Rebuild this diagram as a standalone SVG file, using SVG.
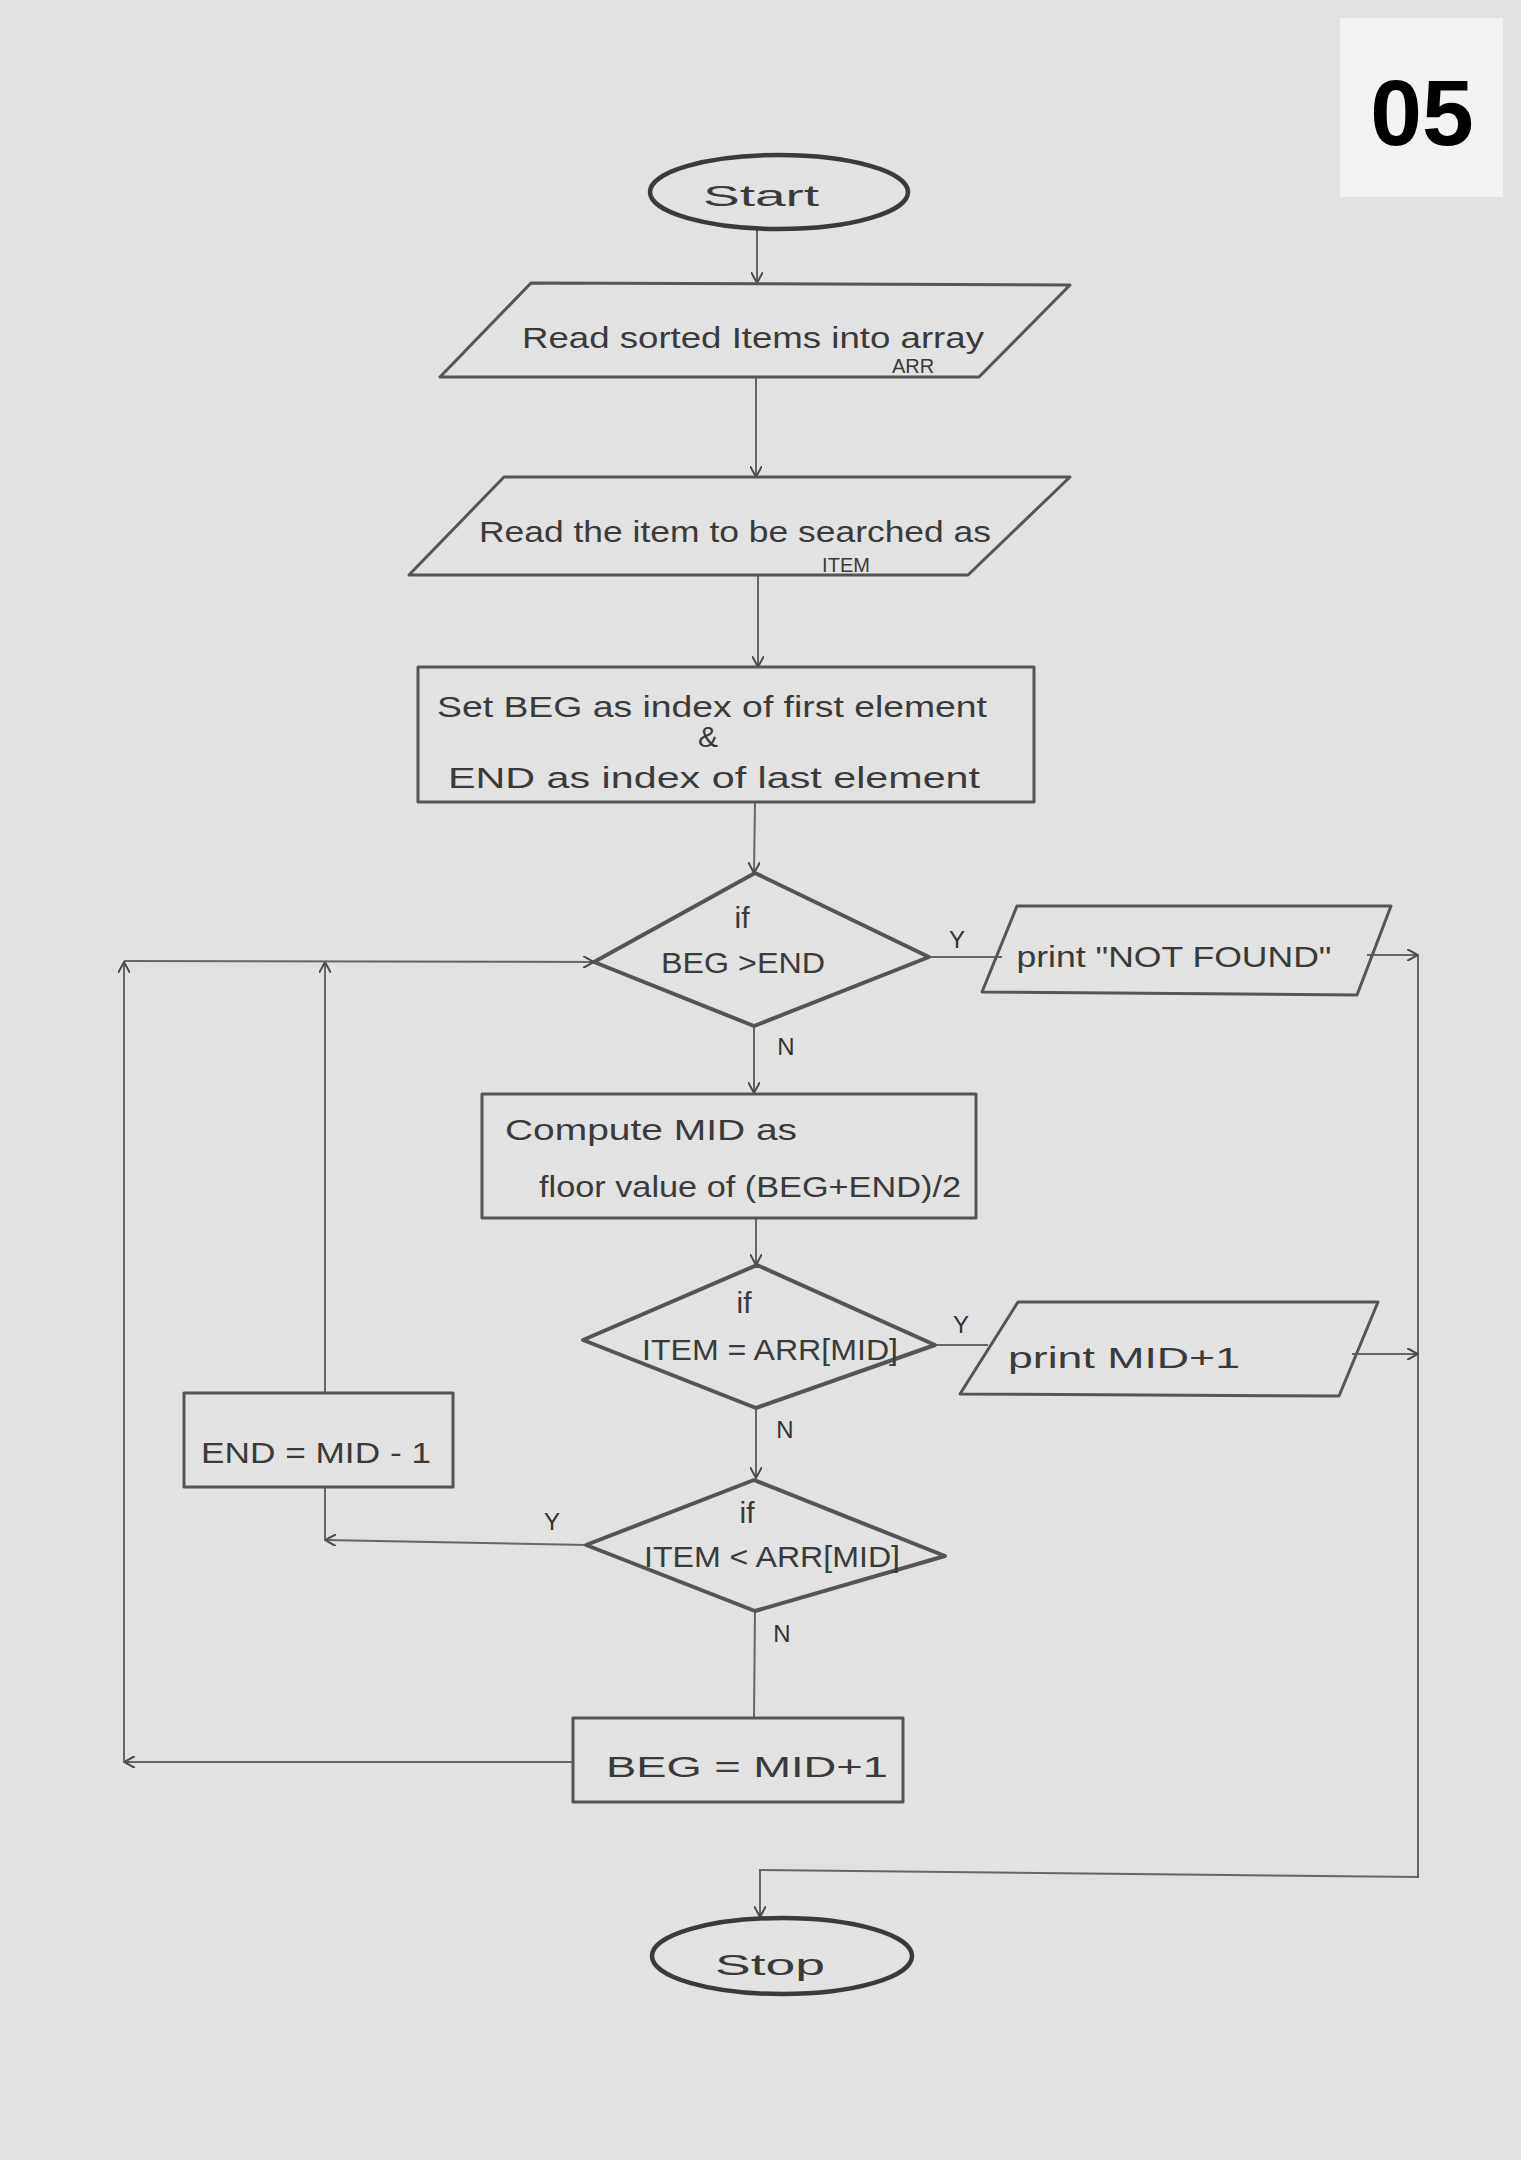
<svg xmlns="http://www.w3.org/2000/svg" width="1521" height="2160" viewBox="0 0 1521 2160">
  <defs>
    <marker id="arrow" viewBox="0 0 12 12" refX="11" refY="6" markerWidth="12" markerHeight="12" markerUnits="userSpaceOnUse" orient="auto">
      <path d="M0,0 L11,6 L0,12" fill="none" stroke="#4a4a4a" stroke-width="2"/>
    </marker>
    <style>
      .shape { fill: none; stroke: #555; stroke-width: 3; stroke-linejoin: round; }
      .dia { fill: none; stroke: #555; stroke-width: 4; stroke-linejoin: round; }
      .term { fill: none; stroke: #3a3a3a; stroke-width: 4.5; }
      .conn { fill: none; stroke: #666; stroke-width: 2; }
      .t { font-family: "Liberation Sans", "DejaVu Sans", sans-serif; fill: #3a3a3a; font-size: 30px; }
      .sm { font-size: 20px; }
      .lbl { font-family: "Liberation Sans", sans-serif; fill: #333; font-size: 24px; }
    </style>
  </defs>

  <rect x="0" y="0" width="1521" height="2160" fill="#e2e2e2"/>

  <!-- page number tag -->
  <g id="tag">
    <rect x="1340" y="18" width="163" height="179" fill="#f3f3f3"/>
    <text x="1422" y="145" text-anchor="middle" font-family="Liberation Sans, Arial, sans-serif" font-weight="bold" font-size="93" fill="#000">05</text>
  </g>

  <!-- connectors -->
  <g id="connectors">
    <line class="conn" x1="757" y1="230" x2="757" y2="283" marker-end="url(#arrow)"/>
    <line class="conn" x1="756" y1="377" x2="756" y2="477" marker-end="url(#arrow)"/>
    <line class="conn" x1="758" y1="575" x2="758" y2="667" marker-end="url(#arrow)"/>
    <line class="conn" x1="755" y1="802" x2="754" y2="873" marker-end="url(#arrow)"/>
    <!-- Y branch to NOT FOUND -->
    <line class="conn" x1="929" y1="957" x2="1002" y2="957"/>
    <line class="conn" x1="1367" y1="955" x2="1418" y2="955" marker-end="url(#arrow)"/>
    <!-- right rail to Stop -->
    <polyline class="conn" points="1418,955 1418,1877 760,1870 760,1917" marker-end="url(#arrow)"/>
    <!-- N branch to compute -->
    <line class="conn" x1="754" y1="1026" x2="754" y2="1093" marker-end="url(#arrow)"/>
    <line class="conn" x1="756" y1="1217" x2="756" y2="1265" marker-end="url(#arrow)"/>
    <!-- Y branch to print MID+1 -->
    <line class="conn" x1="935" y1="1345" x2="988" y2="1345"/>
    <line class="conn" x1="1352" y1="1354" x2="1418" y2="1354" marker-end="url(#arrow)"/>
    <!-- N branch to second test -->
    <line class="conn" x1="756" y1="1408" x2="756" y2="1478" marker-end="url(#arrow)"/>
    <!-- Y branch to END = MID-1 -->
    <line class="conn" x1="586" y1="1545" x2="325" y2="1540" stroke-width="3" marker-end="url(#arrow)"/>
    <line class="conn" x1="325" y1="1540" x2="325" y2="1487"/>
    <line class="conn" x1="325" y1="1393" x2="325" y2="962" marker-end="url(#arrow)"/>
    <!-- N branch to BEG = MID+1 -->
    <line class="conn" x1="755" y1="1611" x2="754" y2="1718"/>
    <line class="conn" x1="573" y1="1762" x2="124" y2="1762" marker-end="url(#arrow)"/>
    <line class="conn" x1="124" y1="1762" x2="124" y2="962" marker-end="url(#arrow)"/>
    <!-- loop back into the first test -->
    <line class="conn" x1="124" y1="961" x2="594" y2="962" stroke-width="3" marker-end="url(#arrow)"/>

    <text class="lbl" x="957" y="948" text-anchor="middle">Y</text>
    <text class="lbl" x="786" y="1055" text-anchor="middle">N</text>
    <text class="lbl" x="961" y="1333" text-anchor="middle">Y</text>
    <text class="lbl" x="785" y="1438" text-anchor="middle">N</text>
    <text class="lbl" x="552" y="1530" text-anchor="middle">Y</text>
    <text class="lbl" x="782" y="1642" text-anchor="middle">N</text>
  </g>

  <g id="start">
    <ellipse class="term" cx="779" cy="192" rx="129" ry="37"/>
    <text class="t" x="761" y="206" text-anchor="middle" font-size="36" textLength="116" lengthAdjust="spacingAndGlyphs">Start</text>
  </g>

  <g id="read-array">
    <polygon class="shape" points="531,283 1070,285 979,377 440,377"/>
    <text class="t" x="753" y="348" text-anchor="middle" font-size="32" textLength="462" lengthAdjust="spacingAndGlyphs">Read sorted Items into array</text>
    <text class="t sm" x="913" y="373" text-anchor="middle">ARR</text>
  </g>

  <g id="read-item">
    <polygon class="shape" points="504,477 1070,477 968,575 409,575"/>
    <text class="t" x="735" y="542" text-anchor="middle" font-size="32" textLength="512" lengthAdjust="spacingAndGlyphs">Read the item to be searched as</text>
    <text class="t sm" x="846" y="572" text-anchor="middle">ITEM</text>
  </g>

  <g id="init">
    <rect class="shape" x="418" y="667" width="616" height="135"/>
    <text class="t" x="712" y="717" text-anchor="middle" textLength="550" lengthAdjust="spacingAndGlyphs">Set BEG as index of first element</text>
    <text class="t" x="708" y="747" text-anchor="middle" font-size="22">&amp;</text>
    <text class="t" x="714" y="788" text-anchor="middle" textLength="532" lengthAdjust="spacingAndGlyphs">END as index of last element</text>
  </g>

  <g id="test-range">
    <polygon class="dia" points="755,873 929,957 754,1026 594,962"/>
    <text class="t" x="742" y="928" text-anchor="middle" font-size="26">if</text>
    <text class="t" x="743" y="973" text-anchor="middle" font-size="26" textLength="164" lengthAdjust="spacingAndGlyphs">BEG &gt;END</text>
  </g>

  <g id="not-found">
    <polygon class="shape" points="1017,906 1391,906 1357,995 982,992"/>
    <text class="t" x="1174" y="967" text-anchor="middle" textLength="315" lengthAdjust="spacingAndGlyphs">print "NOT FOUND"</text>
  </g>

  <g id="compute-mid">
    <rect class="shape" x="482" y="1094" width="494" height="124"/>
    <text class="t" x="505" y="1140" textLength="292" lengthAdjust="spacingAndGlyphs">Compute MID as</text>
    <text class="t" x="539" y="1197" textLength="422" lengthAdjust="spacingAndGlyphs">floor value of (BEG+END)/2</text>
  </g>

  <g id="test-equal">
    <polygon class="dia" points="757,1265 935,1345 756,1408 583,1340"/>
    <text class="t" x="744" y="1313" text-anchor="middle" font-size="26">if</text>
    <text class="t" x="770" y="1360" text-anchor="middle" font-size="24" textLength="256" lengthAdjust="spacingAndGlyphs">ITEM = ARR[MID]</text>
  </g>

  <g id="print-mid">
    <polygon class="shape" points="1018,1302 1378,1302 1339,1396 960,1394"/>
    <text class="t" x="1008" y="1368" textLength="232" lengthAdjust="spacingAndGlyphs">print  MID+1</text>
  </g>

  <g id="end-update">
    <rect class="shape" x="184" y="1393" width="269" height="94"/>
    <text class="t" x="316" y="1463" text-anchor="middle" textLength="230" lengthAdjust="spacingAndGlyphs">END = MID - 1</text>
  </g>

  <g id="test-less">
    <polygon class="dia" points="754,1480 945,1556 755,1611 586,1545"/>
    <text class="t" x="747" y="1523" text-anchor="middle" font-size="26">if</text>
    <text class="t" x="772" y="1567" text-anchor="middle" font-size="24" textLength="256" lengthAdjust="spacingAndGlyphs">ITEM &lt; ARR[MID]</text>
  </g>

  <g id="beg-update">
    <rect class="shape" x="573" y="1718" width="330" height="84"/>
    <text class="t" x="747" y="1777" text-anchor="middle" textLength="282" lengthAdjust="spacingAndGlyphs">BEG = MID+1</text>
  </g>

  <g id="stop">
    <ellipse class="term" cx="782" cy="1956" rx="130" ry="38"/>
    <text class="t" x="770" y="1975" text-anchor="middle" font-size="42" textLength="110" lengthAdjust="spacingAndGlyphs">Stop</text>
  </g>
</svg>
